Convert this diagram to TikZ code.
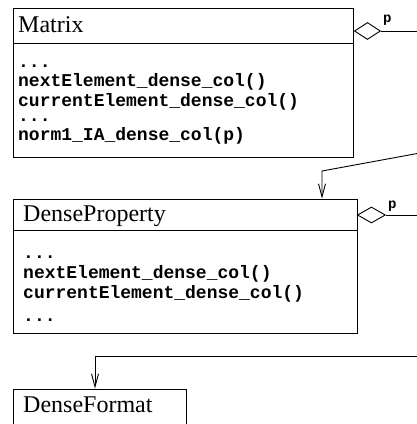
\documentclass[tikz,border=0pt]{standalone}
\usepackage{fontspec}
\setmainfont{Liberation Serif}
\setmonofont{Liberation Mono}
\usetikzlibrary{shapes.geometric,arrows.meta}

\tikzset{
  classbox/.style={draw, line width=0.9pt, rectangle, inner sep=0pt, anchor=north west},
  classname/.style={anchor=base west, inner sep=0pt, font=\fontsize{24}{24}\selectfont},
  member/.style={anchor=base west, inner sep=0pt, font=\fontsize{18}{18}\selectfont\ttfamily\bfseries},
  aggr/.style={draw, shape=diamond, inner sep=0pt, line width=0.9pt, fill=white, anchor=west},
  role/.style={anchor=base west, inner sep=0pt, font=\fontsize{14}{14}\selectfont\ttfamily\bfseries},
  link/.style={line width=0.9pt},
  dep/.style={line width=0.9pt, -{Straight Barb[length=13pt,width=7pt]}},
}

\begin{document}
\begin{tikzpicture}[x=1pt,y=-1pt]
\clip (0,0) rectangle (417,424);

% class Matrix
\node[classbox, minimum width=340pt, minimum height=149pt] (matrix) at (13,8) {};
\draw[link] (matrix.west |- 0,43) -- (matrix.east |- 0,43);
\node[classname] (mname) at (18,32) {Matrix};
\node[member] (m1) at (18,67) {...};
\node[member] (m2) at (18,86) {nextElement\_dense\_col()};
\node[member] (m3) at (18,106) {currentElement\_dense\_col()};
\node[member] (m4) at (18,121) {...};
\node[member] (m5) at (18,140) {norm1\_IA\_dense\_col(p)};

% class DenseProperty
\node[classbox, minimum width=344pt, minimum height=134.5pt] (dp) at (13,198.5) {};
\draw[link] (dp.west |- 0,230) -- (dp.east |- 0,230);
\node[classname] (dpname) at (23,221) {DenseProperty};
\node[member] (d1) at (23,258) {...};
\node[member] (d2) at (23,278) {nextElement\_dense\_col()};
\node[member] (d3) at (23,298) {currentElement\_dense\_col()};
\node[member] (d4) at (23,321) {...};

% class DenseFormat
\node[classbox, minimum width=173pt, minimum height=60pt] (df) at (13,388.5) {};
\node[classname] (dfname) at (23,412) {DenseFormat};

% aggregations
\node[aggr, minimum width=26pt, minimum height=17pt] (ma) at (354,31) {};
\coordinate (maEnd) at (420,31);
\draw[link] (ma.east) -- (maEnd);
\node[role] (mp) at (383,22) {p};

\node[aggr, minimum width=28pt, minimum height=16pt] (da) at (357,215) {};
\coordinate (daEnd) at (420,215);
\draw[link] (da.east) -- (daEnd);
\node[role] (dpp) at (388,208) {p};

% dependencies
\coordinate (s1) at (420,153);
\coordinate (k1) at (322,171);
\draw[dep] (s1) -- (k1) -- (k1 |- dp.north);

\coordinate (s2) at (420,356);
\coordinate (k2) at (95,356);
\draw[dep] (s2) -- (k2) -- (k2 |- df.north);
\end{tikzpicture}
\end{document}
